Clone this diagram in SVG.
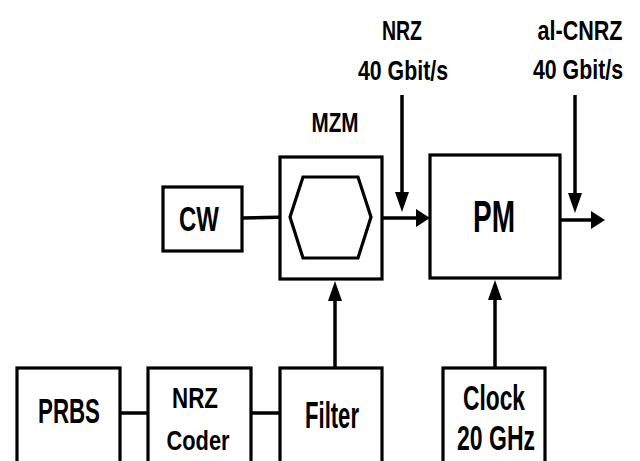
<svg xmlns="http://www.w3.org/2000/svg" width="640" height="461" viewBox="0 0 640 461">
<style>
.box{fill:#fff;stroke:#000;stroke-width:3.2}
.hex{fill:none;stroke:#000;stroke-width:3.2;stroke-linejoin:miter}
.c{fill:none;stroke:#000;stroke-width:3.5}
text{font-family:"Liberation Sans",Arial,sans-serif;font-weight:bold;fill:#000;text-anchor:middle}
</style>
<defs>
<marker id="ah" markerUnits="userSpaceOnUse" markerWidth="16" markerHeight="20" refX="6" refY="9" orient="auto" overflow="visible">
<path d="M0,0 L14,9 L0,18 z" fill="#000"/>
</marker>
<marker id="av" markerUnits="userSpaceOnUse" markerWidth="22" markerHeight="14" refX="12" refY="7" orient="auto" overflow="visible">
<path d="M0,0 L20,7 L0,14 z" fill="#000"/>
</marker>
</defs>
<g id="connectors">
<line class="c" x1="242" y1="218" x2="290" y2="217"/>
<line class="c" x1="371" y1="218" x2="422" y2="218" marker-end="url(#ah)"/>
<line class="c" x1="402" y1="95" x2="402" y2="204" marker-end="url(#av)"/>
<line class="c" x1="575" y1="95" x2="575" y2="205" marker-end="url(#av)"/>
<line class="c" x1="560" y1="220" x2="597" y2="220" marker-end="url(#ah)"/>
<line class="c" x1="335" y1="368" x2="335" y2="289" marker-end="url(#av)"/>
<line class="c" x1="495" y1="368" x2="495" y2="288" marker-end="url(#av)"/>
<line class="c" x1="120" y1="413" x2="148" y2="413"/>
<line class="c" x1="251" y1="413" x2="280" y2="413"/>
</g>
<g id="cw">
<rect class="box" x="163" y="187" width="79" height="64"/>
<text x="199" y="231" font-size="35" textLength="40" lengthAdjust="spacingAndGlyphs">CW</text>
</g>
<g id="mzm">
<rect class="box" x="280" y="157" width="102" height="122"/>
<polygon class="hex" points="290,217 303,177 358,177 371,217 358,258 303,258"/>
<text x="335" y="132" font-size="28" textLength="47" lengthAdjust="spacingAndGlyphs">MZM</text>
</g>
<g id="pm">
<rect class="box" x="430" y="155" width="130" height="123"/>
<text x="494" y="232" font-size="45" textLength="42" lengthAdjust="spacingAndGlyphs">PM</text>
</g>
<g id="nrz-label">
<text x="402" y="40" font-size="28" textLength="40" lengthAdjust="spacingAndGlyphs">NRZ</text>
<text x="403" y="80" font-size="27" textLength="90" lengthAdjust="spacingAndGlyphs">40 Gbit/s</text>
</g>
<g id="alcnrz-label">
<text transform="translate(580 40) scale(0.77 1)" x="0" y="0" font-size="28">al-CNRZ</text>
<text transform="translate(578 79) scale(0.79 1)" x="0" y="0" font-size="27">40 Gbit/s</text>
</g>
<g id="prbs">
<rect class="box" x="17" y="368" width="103" height="120"/>
<text x="69" y="423" font-size="35" textLength="62" lengthAdjust="spacingAndGlyphs">PRBS</text>
</g>
<g id="nrzcoder">
<rect class="box" x="148" y="368" width="103" height="120"/>
<text x="195" y="408" font-size="29" textLength="46" lengthAdjust="spacingAndGlyphs">NRZ</text>
<text x="198" y="450" font-size="28" textLength="63" lengthAdjust="spacingAndGlyphs">Coder</text>
</g>
<g id="filter">
<rect class="box" x="280" y="368" width="102" height="120"/>
<text x="332" y="428" font-size="36" textLength="54" lengthAdjust="spacingAndGlyphs">Filter</text>
</g>
<g id="clock">
<rect class="box" x="443" y="368" width="102" height="120"/>
<text x="494" y="410" font-size="35" textLength="62" lengthAdjust="spacingAndGlyphs">Clock</text>
<text x="496" y="450" font-size="35" textLength="78" lengthAdjust="spacingAndGlyphs">20 GHz</text>
</g>
</svg>
